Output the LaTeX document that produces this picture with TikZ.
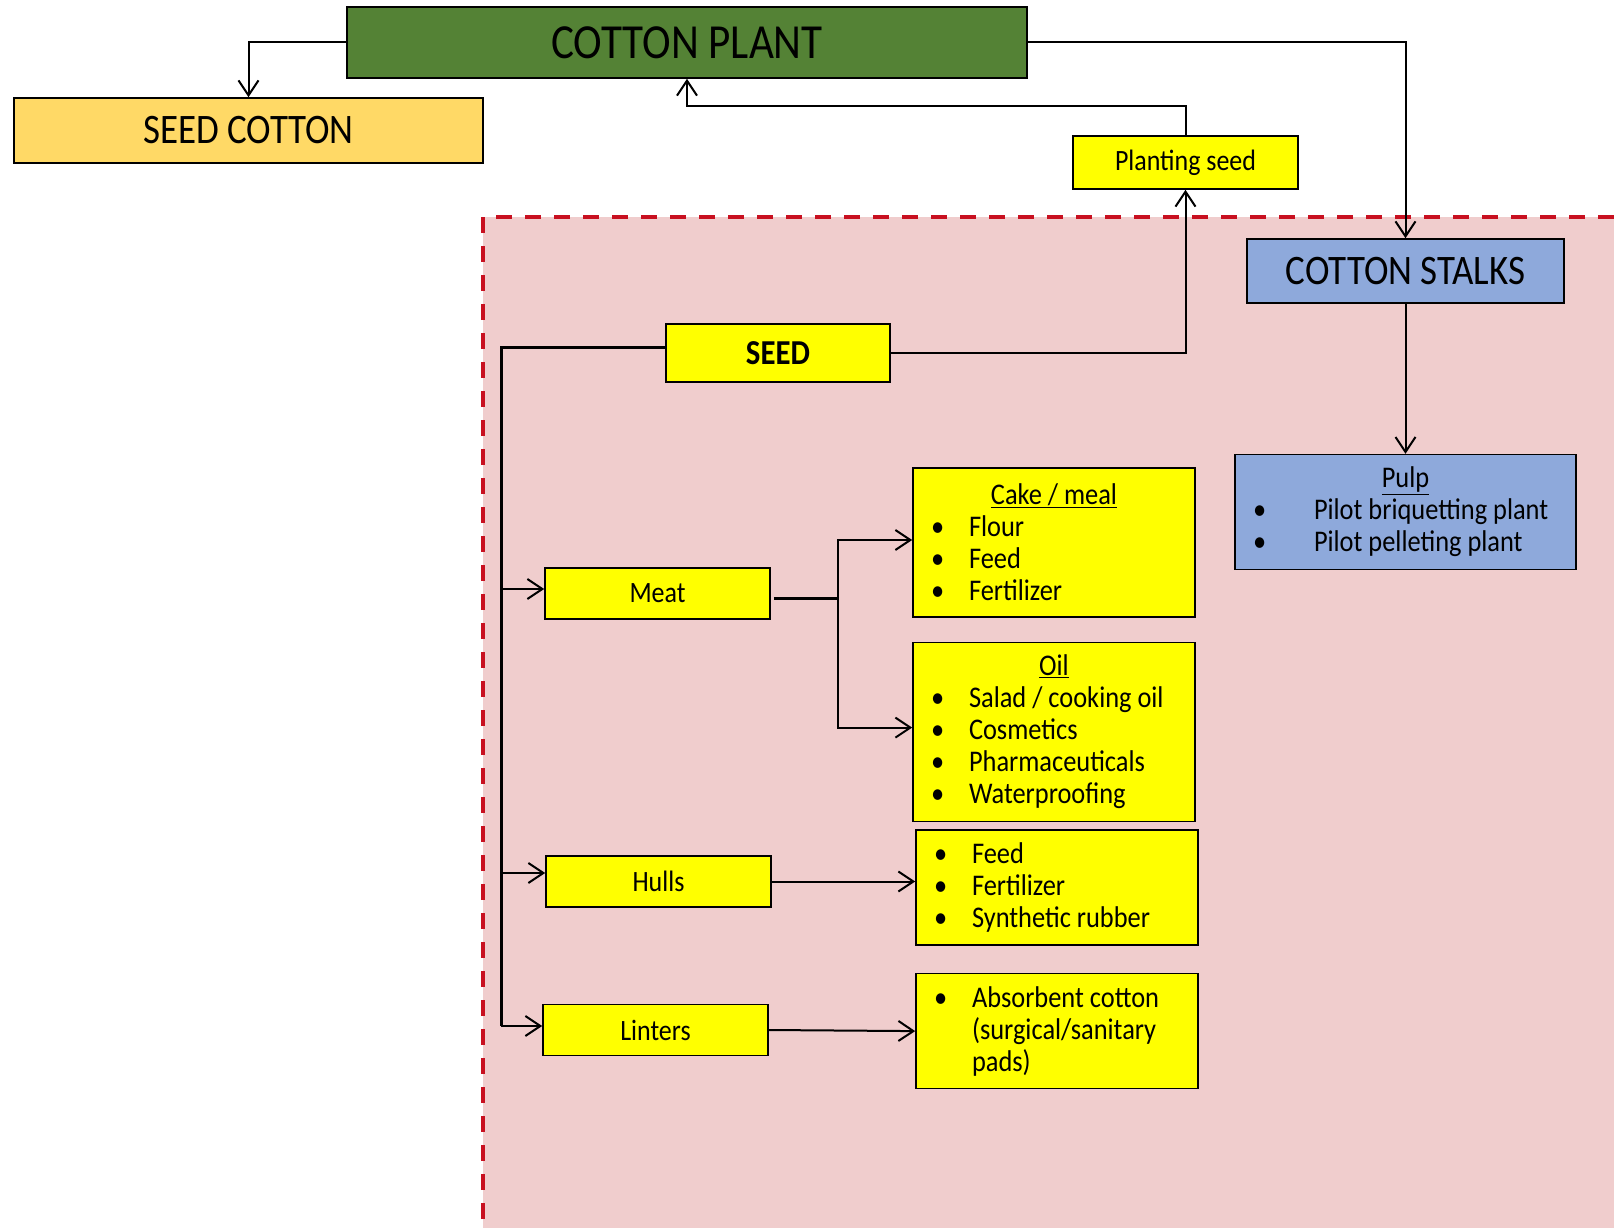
\documentclass[tikz,border=0pt]{standalone}
\usepackage{fontspec}
\setmainfont{Carlito}[FakeStretch=0.88]
\usepackage{tikz}
\usetikzlibrary{arrows.meta}
\usetikzlibrary{positioning}

\definecolor{plantgreen}{RGB}{84,130,53}
\definecolor{seedgold}{RGB}{255,217,102}
\definecolor{stalkblue}{RGB}{142,169,219}
\definecolor{boxyellow}{RGB}{255,255,0}
\definecolor{zonepink}{RGB}{240,205,205}
\definecolor{zonered}{RGB}{200,16,32}

\newcommand{\blt}[1]{\makebox[38pt][l]{\textbullet}#1}
\newcommand{\bltwide}[1]{\makebox[61pt][l]{\textbullet}#1}
\newcommand{\hang}{\hspace*{38pt}}
\newcommand{\boxhead}[1]{\makebox[\hsize][c]{\underline{#1}}}

\tikzset{
    plant/.style={
      rectangle,
           draw=black, line width=1.6pt,
           fill=plantgreen,
           inner sep=2pt,
           text centered,
           minimum width=680pt,
           minimum height=71pt,
           font=\fontsize{49}{56}\selectfont,
           },
}
\tikzset{
    seedcot/.style={
      rectangle,
           draw=black, line width=1.6pt,
           fill=seedgold,
           inner sep=2pt,
           text centered,
           minimum width=469pt,
           minimum height=65pt,
           font=\fontsize{42}{50}\selectfont,
           },
}
\tikzset{
    stalk/.style={
      rectangle,
           draw=black, line width=1.6pt,
           fill=stalkblue,
           inner sep=2pt,
           text centered,
           minimum width=317pt,
           minimum height=64pt,
           font=\fontsize{42}{50}\selectfont,
           },
}
\tikzset{
    stalklist/.style={
      rectangle,
           draw=black, line width=1.6pt,
           fill=stalkblue,
           inner xsep=18pt, inner ysep=4pt,
           align=flush left,
           text width=305pt,
           minimum height=115pt,
           font=\fontsize{30}{32}\selectfont,
           },
}
\tikzset{
    product/.style={
      rectangle,
           draw=black, line width=1.6pt,
           fill=boxyellow,
           inner sep=2pt,
           text centered,
           minimum width=225pt,
           minimum height=51pt,
           font=\fontsize{29.5}{32}\selectfont,
           },
}
\tikzset{
    uselist/.style={
      rectangle,
           draw=black, line width=1.6pt,
           fill=boxyellow,
           inner xsep=18pt, inner ysep=4pt,
           align=flush left,
           text width=246pt,
           font=\fontsize{30}{32}\selectfont,
           },
}

\begin{document}
\begin{tikzpicture}[x=1pt,y=-1pt,>={Straight Barb[length=15pt,width=20pt]}]

\useasboundingbox (0,0) rectangle (1614,1228);

% seed processing zone
\fill[zonepink] (483,217) rectangle (1614,1228);
\draw[zonered,line width=4pt,dash pattern=on 16pt off 13pt] (1614,217) -- (483,217) -- (483,1228);

\node[plant](cpl) at (687,42.5){COTTON PLANT};
\node[seedcot](sco) at (248.5,130.5){SEED COTTON};
\node[product,minimum height=53pt](pls) at (1185.5,162.5){Planting seed};

\draw[->,line width=2pt] (cpl.west)-|(sco.north);
\draw[->,line width=2pt] (pls.north)--++(0,-29)-|(cpl.south);

\node[stalk](cst) at (1405.5,271){COTTON STALKS};
\node[stalklist,below = 150pt of cst](pul){\boxhead{Pulp}\\
  \bltwide{Pilot briquetting plant}\\
  \bltwide{Pilot pelleting plant}};

\draw[->,line width=2pt] (cpl.east)-|(cst.north);
\path (cst) edge[->,line width=2pt](pul);

\node[product,minimum width=224pt,minimum height=58pt,font=\bfseries\fontsize{35}{40}\selectfont](sed) at (778,353){SEED};

\draw[->,line width=2pt] (sed.east)-|(pls.south);

\node[product](mea) at (657.5,593.5){Meat};
\node[product](hul) at (658.5,881.5){Hulls};
\node[product](lin) at (655.5,1030){Linters};

\coordinate (top) at (501,347);
\coordinate (bot) at (501,1026);
\coordinate (meain) at ([yshift=4.5pt]mea.west);
\coordinate (hulin) at ([yshift=8.5pt]hul.west);
\draw[line width=3pt] ([yshift=6pt]sed.west)--(top)--(bot);

\draw[->,line width=2pt] (top|-meain)--(meain);
\draw[->,line width=2pt] (top|-hulin)--(hulin);
\draw[->,line width=2pt] (bot)--([yshift=4pt]lin.west);

\node[uselist,minimum height=149pt](cak) at (1054,542.5){\boxhead{Cake / meal}\\
  \blt{Flour}\\
  \blt{Feed}\\
  \blt{Fertilizer}};
\node[uselist,minimum height=179pt,below = 24pt of cak](oil){\boxhead{Oil}\\
  \blt{Salad / cooking oil}\\
  \blt{Cosmetics}\\
  \blt{Pharmaceuticals}\\
  \blt{Waterproofing}};

\coordinate (fork) at (838,598);
\draw[line width=3pt] ([xshift=3pt,yshift=-4.5pt]mea.east)--(fork);
\draw[->,line width=2pt] (fork)|-([yshift=2.5pt]cak.west);
\draw[->,line width=2pt] (fork)|-([yshift=4.5pt]oil.west);

\node[uselist,minimum height=115pt](fee) at (1057,887.5){\blt{Feed}\\
  \blt{Fertilizer}\\
  \blt{Synthetic rubber}};
\node[uselist,minimum height=115pt,below = 27pt of fee](abs){\blt{Absorbent cotton}\\
  \hang(surgical/sanitary\\
  \hang pads)};

\draw[->,line width=2pt] (hul.east)--(hul.east-|fee.west);
\path (lin.east) edge[->,line width=2pt](abs.west);

\end{tikzpicture}
\end{document}
